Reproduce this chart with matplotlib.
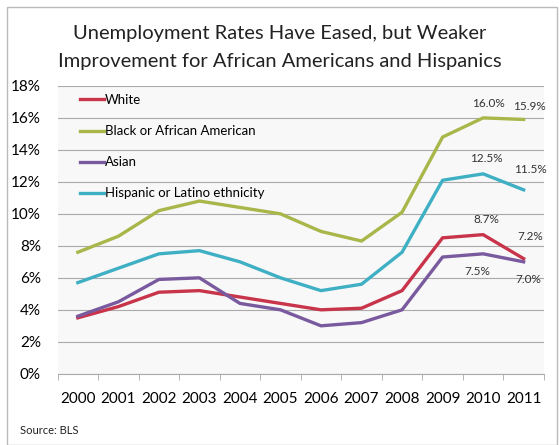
import matplotlib
matplotlib.use("Agg")
import matplotlib.pyplot as plt
from matplotlib.patches import Rectangle

plt.rcParams["font.family"] = ["Lato", "DejaVu Sans"]

years = ["2000", "2001", "2002", "2003", "2004", "2005",
         "2006", "2007", "2008", "2009", "2010", "2011"]
white = [3.5, 4.2, 5.1, 5.2, 4.8, 4.4, 4.0, 4.1, 5.2, 8.5, 8.7, 7.2]
black = [7.6, 8.6, 10.2, 10.8, 10.4, 10.0, 8.9, 8.3, 10.1, 14.8, 16.0, 15.9]
asian = [3.6, 4.5, 5.9, 6.0, 4.4, 4.0, 3.0, 3.2, 4.0, 7.3, 7.5, 7.0]
hispanic = [5.7, 6.6, 7.5, 7.7, 7.0, 6.0, 5.2, 5.6, 7.6, 12.1, 12.5, 11.5]

series = [
    ("White", white, "#C8344A"),
    ("Black or African American", black, "#A8B64A"),
    ("Asian", asian, "#7A5A9E"),
    ("Hispanic or Latino ethnicity", hispanic, "#3FB0C4"),
]

# label text, series, index, dx, dy (points)
labels = [
    ("16.0%", black, 10, 4, 10),
    ("15.9%", black, 11, 4, 9),
    ("12.5%", hispanic, 10, 2, 11),
    ("11.5%", hispanic, 11, 5, 15),
    ("8.7%", white, 10, 2, 11),
    ("7.2%", white, 11, 5, 16),
    ("7.5%", asian, 10, -4, -13),
    ("7.0%", asian, 11, 3, -13),
]

fig = plt.figure(figsize=(5.59, 4.45), dpi=100)
fig.patch.set_facecolor("white")
fig.add_artist(Rectangle((0.012, 0.0), 0.985, 0.985, transform=fig.transFigure,
                         fill=False, edgecolor="#BBBBBB", linewidth=1.0))

ax = fig.add_axes([0.103, 0.16, 0.87, 0.647])
ax.set_facecolor("#F8F8F8")
x = list(range(len(years)))
for name, vals, color in series:
    ax.plot(x, vals, color=color, linewidth=2.4, label=name, zorder=3)

for txt, vals, i, dx, dy in labels:
    ax.annotate(txt, (i, vals[i]), xytext=(dx, dy), textcoords="offset points",
                ha="center", va="center", fontsize=8.5, color="#333333", zorder=4)

ax.set_xlim(-0.5, len(years) - 0.5)
ax.set_ylim(0, 18)
ax.set_yticks(range(0, 19, 2))
ax.set_yticklabels([f"{v}%" for v in range(0, 19, 2)], fontsize=11)
ax.set_xticks(x)
ax.set_xticklabels(years, fontsize=11)
ax.set_xticks([i - 0.5 for i in range(len(years) + 1)], minor=True)
ax.tick_params(axis="x", which="major", length=0, pad=13)
ax.tick_params(axis="x", which="minor", length=4, color="#AAAAAA")
ax.tick_params(axis="y", length=0, pad=12)
ax.yaxis.grid(True, color="#AAAAAA", linewidth=0.8)
ax.set_axisbelow(True)
for s in ["top", "right", "left"]:
    ax.spines[s].set_visible(False)
ax.spines["bottom"].set_color("#AAAAAA")

leg = ax.legend(loc="upper left", frameon=False, fontsize=9.5, handlelength=1.8,
                handletextpad=0.1, labelspacing=1.45, borderaxespad=0.0,
                bbox_to_anchor=(0.035, 0.99))

fig.text(0.5, 0.893, "Unemployment Rates Have Eased, but Weaker\n"
         "Improvement for African Americans and Hispanics",
         ha="center", va="center", fontsize=14.5, color="#222222", linespacing=1.75)
fig.text(0.035, 0.025, "Source: BLS", fontsize=8, color="#222222")

fig.savefig("out.png", dpi=100)
